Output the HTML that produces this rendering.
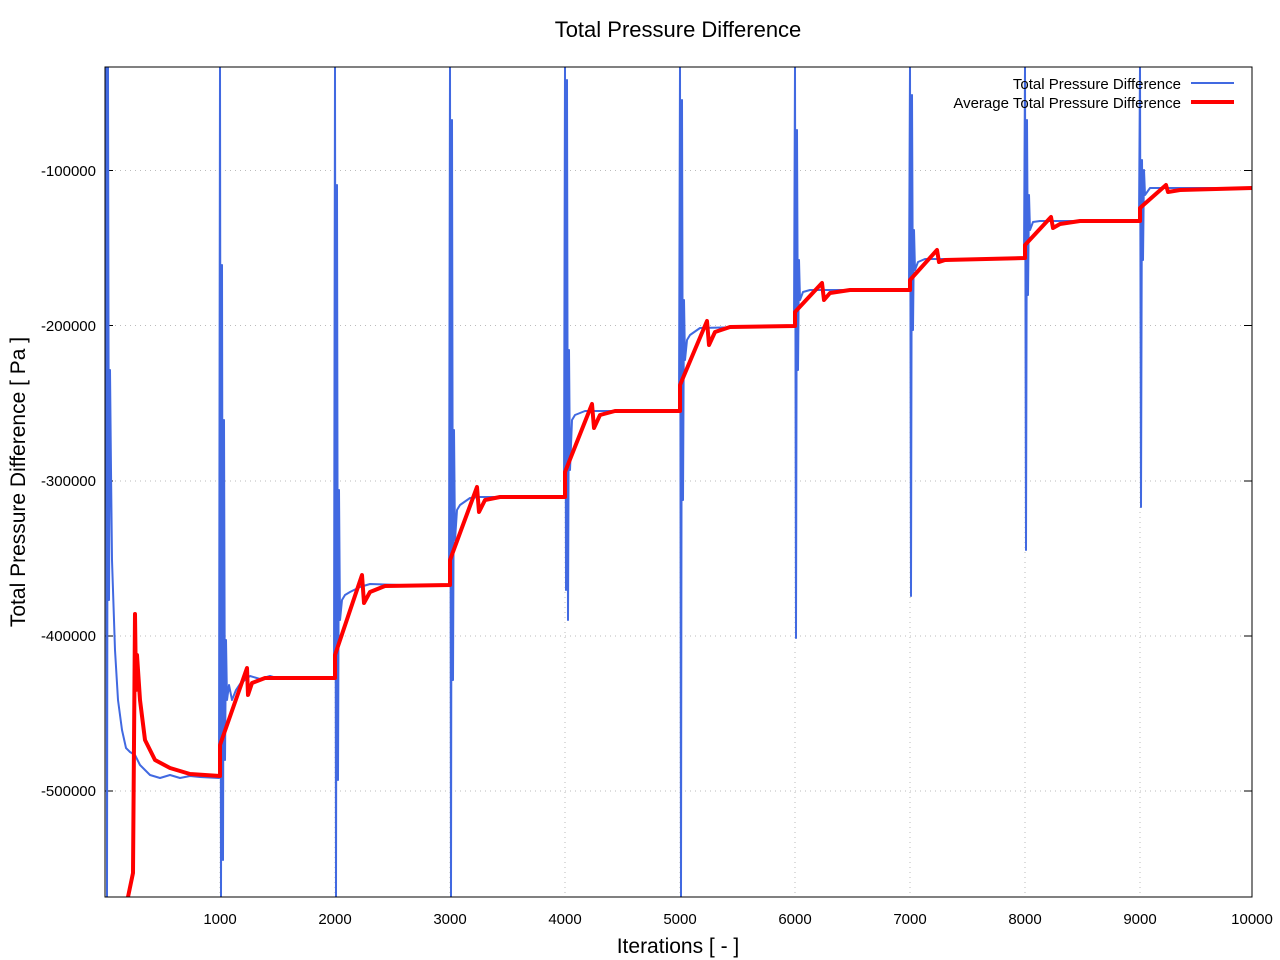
<!DOCTYPE html>
<html><head><meta charset="utf-8"><style>body{margin:0;background:#fff}svg{display:block}text{font-family:"Liberation Sans",sans-serif;fill:#000}</style></head><body>
<svg width="1280" height="960" viewBox="0 0 1280 960" xmlns="http://www.w3.org/2000/svg">
<defs><clipPath id="c"><rect x="105" y="67" width="1147" height="830"/></clipPath></defs>
<g stroke="#bbb" stroke-width="1" stroke-dasharray="1,4">
<line x1="105" x2="1252" y1="170.5" y2="170.5"/><line x1="105" x2="1252" y1="325.5" y2="325.5"/><line x1="105" x2="1252" y1="481" y2="481"/><line x1="105" x2="1252" y1="636" y2="636"/><line x1="105" x2="1252" y1="791" y2="791"/>
<line y1="67" y2="897" x1="220" x2="220"/><line y1="67" y2="897" x1="335" x2="335"/><line y1="67" y2="897" x1="450" x2="450"/><line y1="67" y2="897" x1="565" x2="565"/><line y1="67" y2="897" x1="680" x2="680"/><line y1="67" y2="897" x1="795" x2="795"/><line y1="67" y2="897" x1="910" x2="910"/><line y1="67" y2="897" x1="1025" x2="1025"/><line y1="67" y2="897" x1="1140" x2="1140"/>
</g>
<g stroke="#000" stroke-width="1">
<line x1="105" x2="113" y1="170.5" y2="170.5"/><line x1="105" x2="113" y1="325.5" y2="325.5"/><line x1="105" x2="113" y1="481" y2="481"/><line x1="105" x2="113" y1="636" y2="636"/><line x1="105" x2="113" y1="791" y2="791"/>
<line x1="1244" x2="1252" y1="170.5" y2="170.5"/><line x1="1244" x2="1252" y1="325.5" y2="325.5"/><line x1="1244" x2="1252" y1="481" y2="481"/><line x1="1244" x2="1252" y1="636" y2="636"/><line x1="1244" x2="1252" y1="791" y2="791"/>
</g>
<g clip-path="url(#c)" fill="none" stroke-linejoin="round">
<path stroke="#4169e1" stroke-width="2" d="M106,67 L107,897 L108,67 L109,600 L110,370 L111,470 L112,560 L115,650 L118,700 L122,730 L126,748 L130,752 L135,755 L140,765 L145,770 L150,775 L160,778 L170,775 L180,778 L190,776 L200,777 L219,778
L220,67 L221,897 L222,265 L223,860 L224,420 L225,760 L226,640 L227,700 L229,685 L232,700 L236,690 L240,684 L245,680 L250,676 L260,679 L270,676 L280,679 L300,677 L334,678
L335,67 L336,897 L337,185 L338,780 L339,490 L340,620 L342,600 L345,595 L350,592 L360,587 L370,584 L400,585 L449,585
L450,67 L451,897 L452,120 L453,680 L454,430 L455,540 L457,510 L460,505 L470,498 L480,497 L564,497
L565,67 L566,590 L567,80 L568,620 L569,350 L570,470 L572,420 L575,415 L585,411 L679,411
L680,67 L681,897 L682,100 L683,500 L684,300 L685,360 L687,340 L690,335 L700,328 L794,326
L795,67 L796,638 L797,130 L798,370 L799,260 L800,300 L803,292 L810,290 L909,290
L910,67 L911,596 L912,95 L913,330 L914,230 L915,270 L918,262 L925,259 L1024,259
L1025,67 L1026,550 L1027,120 L1028,295 L1029,195 L1030,230 L1033,222 L1040,221 L1139,221
L1140,67 L1141,507 L1142,160 L1143,260 L1144,170 L1145,195 L1150,188 L1252,188"/>
<path stroke="#ff0000" stroke-width="4" d="M128,897 L133,873 L135,614 L136,690 L137,655 L140,700 L145,740 L155,760 L170,768 L190,774 L220,776 L220,745 L247,668 L248,695 L252,683 L265,678 L335,678 L335,655 L362,575 L364,603 L370,592 L385,586 L450,585 L450,560 L477,487 L479,512 L485,500 L500,497 L565,497 L565,472 L592,404 L594,428 L600,415 L615,411 L680,411 L680,385 L707,321 L709,345 L715,332 L730,327 L795,326 L795,312 L822,283 L824,300 L830,293 L850,290 L910,290 L910,280 L937,250 L939,262 L945,260 L1025,258 L1025,245 L1051,217 L1053,228 L1060,224 L1080,221 L1140,221 L1140,208 L1166,185 L1168,192 L1180,190 L1252,188"/>
</g>
<rect x="105" y="67" width="1147" height="830" fill="none" stroke="#000" stroke-width="1"/>
<g font-size="15" text-anchor="end">
<text x="96" y="176">-100000</text><text x="96" y="331">-200000</text><text x="96" y="486">-300000</text><text x="96" y="641">-400000</text><text x="96" y="796">-500000</text>
<text x="1181" y="89">Total Pressure Difference</text><text x="1181" y="108">Average Total Pressure Difference</text>
</g>
<line x1="1191" x2="1234" y1="83" y2="83" stroke="#4169e1" stroke-width="2"/>
<line x1="1191" x2="1234" y1="102" y2="102" stroke="#ff0000" stroke-width="4"/>
<g font-size="15" text-anchor="middle">
<text x="220" y="924">1000</text><text x="335" y="924">2000</text><text x="450" y="924">3000</text><text x="565" y="924">4000</text><text x="680" y="924">5000</text><text x="795" y="924">6000</text><text x="910" y="924">7000</text><text x="1025" y="924">8000</text><text x="1140" y="924">9000</text><text x="1252" y="924">10000</text>
</g>
<text x="678" y="953" font-size="21" text-anchor="middle">Iterations [ - ]</text>
<text x="678" y="37" font-size="22" text-anchor="middle">Total Pressure Difference</text>
<text transform="translate(25,482) rotate(-90)" font-size="21" text-anchor="middle">Total Pressure Difference [ Pa ]</text>
</svg>
</body></html>
